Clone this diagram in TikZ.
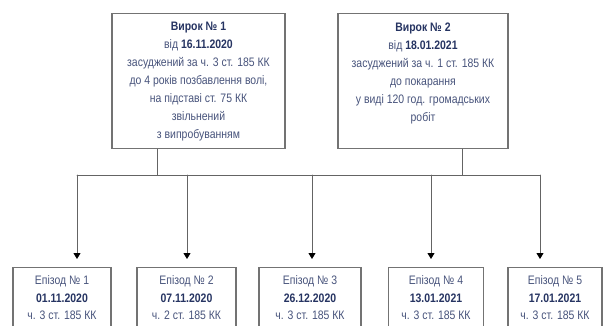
\documentclass[tikz,border=0pt]{standalone}
\usepackage{fontspec}
\setmainfont{Liberation Sans}[FakeStretch=0.85]
\usetikzlibrary{arrows.meta}

\definecolor{verdictblue}{RGB}{38,52,98}
\definecolor{textslate}{RGB}{72,84,124}
\definecolor{framegrey}{RGB}{115,115,115}
\definecolor{linkgrey}{RGB}{100,100,100}

\newcommand{\bnum}[1]{\textbf{\color{verdictblue}#1}}

\begin{document}
\begin{tikzpicture}[
            x=1pt, y=-1pt,
            >={Triangle[length=6pt, width=7pt, color=black]},
            line cap=round,
            box/.style={draw=framegrey, line width=1.2pt, fill=white, align=center,
                text=textslate, inner xsep=2pt, anchor=north},
            verdict/.style={box, minimum height=135pt, font=\fontsize{12.3}{18}\selectfont},
            episode/.style={box, minimum height=78pt, font=\fontsize{12.3}{17.5}\selectfont},
            link/.style={draw=linkgrey, line width=0.9pt},
            drop/.style={link, ->, shorten >=8pt},
        ]
        \useasboundingbox (0,0) rectangle (603,325);
        \clip (0,0) rectangle (603,325);

        % verdicts
        \node[verdict, minimum width=173pt] (verdict1) at (198.5,13)
            {\bnum{Вирок № 1}\\ від \bnum{16.11.2020}\\ засуджений за ч. 3 ст. 185 КК\\
             до 4 років позбавлення волі,\\ на підставі ст. 75 КК\\ звільнений\\ з випробуванням};
        \node[verdict, minimum width=170pt] (verdict2) at (423,13)
            {\bnum{Вирок № 2}\\ від \bnum{18.01.2021}\\ засуджений за ч. 1 ст. 185 КК\\
             до покарання\\ у виді 120 год. громадських\\ робіт\\ \mbox{}};

        % episodes
        \node[episode, minimum width=98pt] (ep1) at (62,267)
            {Епізод № 1\\ \bnum{01.11.2020}\\ ч. 3 ст. 185 КК\\ \mbox{}};
        \node[episode, minimum width=99pt] (ep2) at (186.5,267)
            {Епізод № 2\\ \bnum{07.11.2020}\\ ч. 2 ст. 185 КК\\ \mbox{}};
        \node[episode, minimum width=102pt] (ep3) at (310,267)
            {Епізод № 3\\ \bnum{26.12.2020}\\ ч. 3 ст. 185 КК\\ \mbox{}};
        \node[episode, minimum width=95pt] (ep4) at (436,267)
            {Епізод № 4\\ \bnum{13.01.2021}\\ ч. 3 ст. 185 КК\\ \mbox{}};
        \node[episode, minimum width=94pt] (ep5) at (555,267)
            {Епізод № 5\\ \bnum{17.01.2021}\\ ч. 3 ст. 185 КК\\ \mbox{}};

        % bus
        \coordinate (stem1) at (157,175);
        \coordinate (stem2) at (462,175);
        \coordinate (drop1) at (77,175);
        \coordinate (drop2) at (187,175);
        \coordinate (drop3) at (312,175);
        \coordinate (drop4) at (431,175);
        \coordinate (drop5) at (540,175);

        \draw[link] (verdict1.south -| stem1) -- (stem1);
        \draw[link] (verdict2.south -| stem2) -- (stem2);
        \draw[link] (drop1) -- (drop5);

        \draw[drop] (drop1) -- (drop1 |- ep1.north);
        \draw[drop] (drop2) -- (drop2 |- ep2.north);
        \draw[drop] (drop3) -- (drop3 |- ep3.north);
        \draw[drop] (drop4) -- (drop4 |- ep4.north);
        \draw[drop] (drop5) -- (drop5 |- ep5.north);
        \end{tikzpicture}
\end{document}
